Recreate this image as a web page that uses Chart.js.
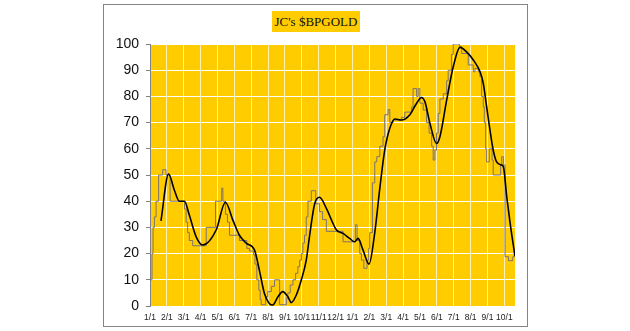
<!DOCTYPE html>
<html>
<head>
<meta charset="UTF-8">
<title>JC's $BPGOLD</title>
<script src="https://cdn.jsdelivr.net/npm/chart.js@4.4.0/dist/chart.umd.min.js"></script>
<style>
  * { box-sizing: border-box; margin: 0; padding: 0; }
  body { background: #fff; width: 630px; height: 331px; position: relative; overflow: hidden; }
  #frame { position: absolute; left: 103px; top: 4px; width: 425px; height: 323px; border: 1px solid #858585; }
  #title { position: absolute; left: 272px; top: 11px; width: 88px; height: 21px; background: #ffcc00;
           font: 13px 'Liberation Serif', 'DejaVu Serif', serif; color: #111; text-align: center; line-height: 21px; }
  canvas { position: absolute; left: 0; top: 0; }
</style>
</head>
<body>
<div id="frame"></div>
<canvas id="c" width="630" height="331"></canvas>
<div id="title">JC's $BPGOLD</div>

<script>
// month ticks, two years: 1/1 .. 10/1
const monthLabels = ['1/1','2/1','3/1','4/1','5/1','6/1','7/1','8/1','9/1','10/1','11/1','12/1',
                     '1/1','2/1','3/1','4/1','5/1','6/1','7/1','8/1','9/1','10/1']
const xEnd = 21.63   // data runs to ~Oct 20 of the 2nd year

// daily bullish percent (step line), x = months since first 1/1
const dailyX = [0.00,0.12,0.18,0.26,0.36,0.51,0.75,0.95,1.19,2.04,2.14,2.23,2.33,2.53,3.33,3.88,4.25,4.32,4.47,4.59,
                4.71,5.30,5.74,5.90,6.13,6.22,6.33,6.45,6.53,6.59,6.85,6.98,7.19,7.38,7.68,8.08,8.17,8.31,8.47,8.63,
                8.76,8.87,8.97,9.06,9.16,9.26,9.36,9.56,9.82,10.05,10.23,10.45,11.44,12.17,12.27,12.43,12.53,12.67,12.86,12.96,
                13.02,13.18,13.32,13.44,13.62,13.81,13.91,14.11,14.21,14.41,14.90,15.10,15.50,15.59,15.80,15.89,15.99,16.19,16.39,16.54,
                16.69,16.78,16.88,16.98,17.08,17.18,17.38,17.58,17.67,17.87,17.97,18.33,18.47,18.86,19.16,19.26,19.45,19.55,19.65,19.75,
                19.81,19.89,19.95,20.11,20.27,20.34,20.78,20.84,20.94,21.04,21.24,21.50,21.59,21.63]
const dailyY = [10,20,30,34,40,50,52,50,40,37,32,28,25,23,30,40,45,40,35,32,
                27,25,22,21,19.5,16,10,6,2.5,0.5,3.5,5.5,7.5,10,0.5,3,5,8,10,12.5,
                15,17.5,20,24,27,34,40,44,39,36,33,28.5,24.5,31,25,20,17.5,14.4,17.5,22,
                28,47,55,57,61,64.6,73,75,70,71,72,74,76,83,80,83,77.4,74.8,70,66,
                61,55.7,59.5,66,73.5,79,81,86,90,96,100,99,96.4,92,89.4,90.7,89.4,87.5,80,76,
                70,60,55,60,55.7,50,53.8,57,53.8,18.8,17.3,18.8,20.7,20.7]

// smoothed average (black line)
const avgX = [0.65,1.10,1.44,1.74,2.04,2.33,2.73,3.12,3.92,4.47,4.91,5.30,5.70,6.19,6.48,6.78,7.07,7.28,7.58,7.87,
              8.17,8.37,8.67,8.97,9.26,9.46,9.76,10.05,10.45,11.05,11.44,11.83,12.13,12.33,12.62,12.98,13.32,13.62,13.91,14.21,
              14.51,14.90,15.40,15.80,16.09,16.29,16.59,16.98,17.18,17.58,17.97,18.37,18.76,19.16,19.56,19.75,19.95,20.15,20.34,20.54,
              20.84,20.94,21.14,21.34,21.63]
const avgY = [32.5,50.4,44.3,40,40,34.7,26.5,23.3,29,39.6,32.8,27,24,21.4,13.7,4.8,1,0.4,3.5,5.5,
              3.5,1.3,4.2,10,17.5,27,39,41.5,37.3,29,27.7,25.8,24.5,25.8,21.4,16,28,45,59.5,67.8,
              71.4,71,73,77.4,79.6,78,69.7,62,64.6,78.6,91.3,98.7,97,93.9,89.4,85,76,67,59.5,55,
              53.8,53.2,41.7,31.6,19]

const yTicks = [0,10,20,30,40,50,60,70,80,90,100]

const pts = (xs, ys) => xs.map((x, i) => ({ x, y: ys[i] }))

// gold plot background
const plotBg = {
  id: 'plotBg',
  beforeDraw(chart) {
    const { ctx, chartArea: a } = chart
    ctx.save()
    ctx.fillStyle = '#ffcc00'
    ctx.fillRect(a.left, a.top, a.right - a.left, a.bottom - a.top)
    ctx.restore()
  }
}

new Chart(document.getElementById('c'), {
  type: 'line',
  data: {
    datasets: [
      { label: 'avg', data: pts(avgX, avgY), borderColor: '#000', borderWidth: 1.6,
        pointRadius: 0, cubicInterpolationMode: 'monotone', order: 1 },
      { label: 'daily', data: pts(dailyX, dailyY), borderColor: '#7d7373', borderWidth: 1,
        pointRadius: 0, stepped: 'before', order: 2 },
    ]
  },
  options: {
    responsive: false, animation: false,
    layout: { padding: { left: 103, right: 115, top: 44, bottom: 5 } },
    plugins: { legend: { display: false }, tooltip: { enabled: false } },
    scales: {
      x: {
        type: 'linear', min: 0, max: xEnd,
        afterBuildTicks: s => { s.ticks = monthLabels.map((_, i) => ({ value: i })) },
        afterFit: s => { s.height = 20 },
        ticks: { autoSkip: false, maxRotation: 0, minRotation: 0, padding: 7, color: '#222',
                 font: { family: 'Liberation Sans, Arial, sans-serif', size: 8.5 },
                 callback: v => monthLabels[v] },
        grid: { color: 'rgba(255,255,255,0.7)', lineWidth: 1, drawTicks: false },
        border: { display: false }
      },
      y: {
        min: 0, max: 100,
        afterBuildTicks: s => { s.ticks = yTicks.map(v => ({ value: v })) },
        afterFit: s => { s.width = 47 },
        ticks: { padding: 7, color: '#111', font: { family: 'Liberation Sans, Arial, sans-serif', size: 14 } },
        grid: { color: '#fff', lineWidth: 1, tickColor: '#808080', tickLength: 4 },
        border: { color: '#808080', width: 1 }
      }
    }
  },
  plugins: [plotBg]
})
</script>
</body>
</html>
